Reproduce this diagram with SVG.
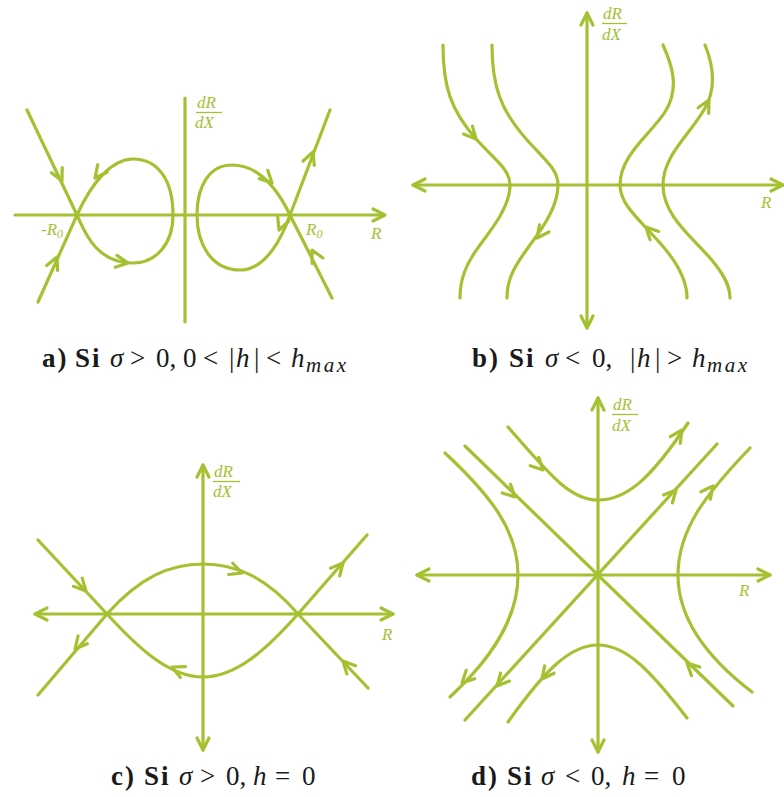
<svg xmlns="http://www.w3.org/2000/svg" xmlns:xlink="http://www.w3.org/1999/xlink" width="784" height="797" viewBox="0 0 784 797">
<style>
.ln{fill:none;stroke:#a4c132;stroke-width:3.2;stroke-linecap:round;stroke-linejoin:round}
.ah{fill:none;stroke:#a4c132;stroke-width:3.2;stroke-linecap:round;stroke-linejoin:round}
.fb{stroke:#a4c132;stroke-width:1.3}
.lb{font-family:"Liberation Serif","DejaVu Serif",serif;font-style:italic;fill:#a4c132;font-size:17px}
.sub{font-size:12px}
.cap{font-family:"Liberation Serif","DejaVu Serif",serif;font-size:27px;fill:#1a1a1a}
.b{font-weight:bold;letter-spacing:2px}
.i{font-style:italic}
.s{font-style:italic;font-size:21px;letter-spacing:2.5px}
</style>
<defs>
<path id="ah" class="ah" d="M-12,-6 L0,0 L-12,6"/>
</defs>
<rect width="784" height="797" fill="#fff"/>

<g id="panel-a">
  <g id="a-axes">
    <path class="ln" d="M15,215 L384,215"/>
    <use href="#ah" transform="translate(385,215)"/>
    <path class="ln" d="M185,98 L185,322"/>
  </g>
  <g id="a-labels">
    <text class="lb" x="197" y="108">dR</text>
    <path class="fb" d="M196,112.5 L222,112.5"/>
    <text class="lb" x="195" y="128">dX</text>
    <text class="lb" x="41" y="235">-R<tspan class="sub" dy="3">0</tspan></text>
    <text class="lb" x="306" y="235">R<tspan class="sub" dy="3">0</tspan></text>
    <text class="lb" x="371" y="239">R</text>
  </g>
  <g id="a-connectors">
    <path class="ln" d="M27,110 L77,215 C84,230 95,263 133,263 C155,263 173,245 173,215 C173,180 158,159 133,159 C112,159 92,182 77,215 L38,302"/>
    <path class="ln" d="M330,110 L290,215 C284,232 268,270 240,270 C212,270 197,245 197,215 C197,185 210,165 232,165 C258,165 277,188 290,215 L332,298"/>
    <use href="#ah" transform="translate(62,181) rotate(64.5)"/>
    <use href="#ah" transform="translate(95,178) rotate(128)"/>
    <use href="#ah" transform="translate(128,263) rotate(8)"/>
    <use href="#ah" transform="translate(57,257) rotate(-66)"/>
    <use href="#ah" transform="translate(313,152) rotate(-69)"/>
    <use href="#ah" transform="translate(279,230) rotate(111)"/>
    <use href="#ah" transform="translate(272,183) rotate(45)"/>
    <use href="#ah" transform="translate(312,250) rotate(-117)"/>
  </g>
</g>

<g id="panel-b">
  <g id="b-axes">
    <path class="ln" d="M413,185 L782,185"/>
    <use href="#ah" transform="translate(413,185) rotate(180)"/>
    <use href="#ah" transform="translate(783,185)"/>
    <path class="ln" d="M587,13 L587,328"/>
    <use href="#ah" transform="translate(587,13) rotate(-90)"/>
    <use href="#ah" transform="translate(587,328) rotate(90)"/>
  </g>
  <g id="b-labels">
    <text class="lb" x="603" y="19">dR</text>
    <path class="fb" d="M602,23.5 L627,23.5"/>
    <text class="lb" x="602" y="40">dX</text>
    <text class="lb" x="761" y="208">R</text>
  </g>
  <g id="b-connectors">
    <path class="ln" d="M443,45 C443,85 450,110 477,140 C497,162 510,170 510,185 C510,205 495,225 480,245 C465,265 460,280 460,298"/>
    <path class="ln" d="M492,45 C492,85 500,110 527,140 C547,162 558,170 558,185 C558,205 545,225 530,245 C513,268 507,280 507,298"/>
    <path class="ln" d="M663,45 C672,65 680,88 665,112 C650,135 620,155 620,185 C620,205 640,220 660,243 C678,263 687,280 687,298"/>
    <path class="ln" d="M705,45 C712,62 718,85 705,108 C690,135 663,155 663,185 C663,215 690,235 710,258 C723,273 730,285 730,298"/>
    <use href="#ah" transform="translate(476,139) rotate(48)"/>
    <use href="#ah" transform="translate(537,238) rotate(127)"/>
    <use href="#ah" transform="translate(646,227) rotate(226)"/>
    <use href="#ah" transform="translate(709,100) rotate(-62)"/>
  </g>
</g>

<g id="panel-c">
  <g id="c-axes">
    <path class="ln" d="M35,614 L393,614"/>
    <use href="#ah" transform="translate(35,614) rotate(180)"/>
    <use href="#ah" transform="translate(393,614)"/>
    <path class="ln" d="M203,465 L203,750"/>
    <use href="#ah" transform="translate(203,465) rotate(-90)"/>
    <use href="#ah" transform="translate(203,750) rotate(90)"/>
  </g>
  <g id="c-labels">
    <text class="lb" x="214" y="477">dR</text>
    <path class="fb" d="M213,481.5 L240,481.5"/>
    <text class="lb" x="213" y="497">dX</text>
    <text class="lb" x="382" y="640">R</text>
  </g>
  <g id="c-connectors">
    <path class="ln" d="M38,540 L107,614 C140,650 170,677 203,677 C236,677 266,650 298,614 L367,535"/>
    <path class="ln" d="M38,695 L107,614 C140,577 170,564 203,564 C236,564 266,577 298,614 L368,688"/>
    <use href="#ah" transform="translate(86,591) rotate(47)"/>
    <use href="#ah" transform="translate(242,573) rotate(20)"/>
    <use href="#ah" transform="translate(343,563) rotate(-49)"/>
    <use href="#ah" transform="translate(343,661) rotate(-133)"/>
    <use href="#ah" transform="translate(172,667) rotate(205)"/>
    <use href="#ah" transform="translate(75,649) rotate(130)"/>
  </g>
</g>

<g id="panel-d">
  <g id="d-axes">
    <path class="ln" d="M417,575 L770,575"/>
    <use href="#ah" transform="translate(417,575) rotate(180)"/>
    <use href="#ah" transform="translate(770,575)"/>
    <path class="ln" d="M598,398 L598,752"/>
    <use href="#ah" transform="translate(598,398) rotate(-90)"/>
    <use href="#ah" transform="translate(598,752) rotate(90)"/>
  </g>
  <g id="d-labels">
    <text class="lb" x="613" y="410">dR</text>
    <path class="fb" d="M612,414.5 L638,414.5"/>
    <text class="lb" x="612" y="431">dX</text>
    <text class="lb" x="739" y="596">R</text>
  </g>
  <g id="d-connectors">
    <path class="ln" d="M465,446 L733,706"/>
    <path class="ln" d="M717,444 L465,720"/>
    <path class="ln" d="M508,427 C550,475 570,500 598,500 C626,500 650,480 688,423"/>
    <path class="ln" d="M508,722 C545,670 570,645 598,645 C626,645 650,670 687,718"/>
    <path class="ln" d="M445,453 C490,495 518,530 518,575 C518,620 490,660 450,697"/>
    <path class="ln" d="M750,448 C705,495 678,530 678,575 C678,620 710,660 752,692"/>
    <use href="#ah" transform="translate(543,470) rotate(45)"/>
    <use href="#ah" transform="translate(682,430) rotate(-56)"/>
    <use href="#ah" transform="translate(515,497) rotate(44)"/>
    <use href="#ah" transform="translate(676,490) rotate(-48)"/>
    <use href="#ah" transform="translate(713,486) rotate(-52)"/>
    <use href="#ah" transform="translate(462,683) rotate(135)"/>
    <use href="#ah" transform="translate(497,686) rotate(132)"/>
    <use href="#ah" transform="translate(542,679) rotate(128)"/>
    <use href="#ah" transform="translate(687,663) rotate(-136)"/>
  </g>
</g>

<g id="captions">
  <text class="cap" y="367"><tspan class="b" x="42">a)</tspan><tspan class="b" x="75">Si</tspan><tspan class="i" x="110">σ</tspan><tspan x="130">&gt;</tspan><tspan x="156">0,</tspan><tspan x="183">0</tspan><tspan x="203">&lt;</tspan><tspan x="229">|</tspan><tspan class="i" x="236">h</tspan><tspan x="254">|</tspan><tspan x="266">&lt;</tspan><tspan class="i" x="291">h</tspan><tspan class="s" x="306" dy="5">max</tspan></text>
  <text class="cap" y="367"><tspan class="b" x="472">b)</tspan><tspan class="b" x="509">Si</tspan><tspan class="i" x="545">σ</tspan><tspan x="565">&lt;</tspan><tspan x="592">0,</tspan><tspan x="630">|</tspan><tspan class="i" x="637">h</tspan><tspan x="655">|</tspan><tspan x="667">&gt;</tspan><tspan class="i" x="692">h</tspan><tspan class="s" x="707" dy="5">max</tspan></text>
  <text class="cap" y="785"><tspan class="b" x="111">c)</tspan><tspan class="b" x="144">Si</tspan><tspan class="i" x="179">σ</tspan><tspan x="200">&gt;</tspan><tspan x="226">0,</tspan><tspan class="i" x="253">h</tspan><tspan x="275">=</tspan><tspan x="302">0</tspan></text>
  <text class="cap" y="785"><tspan class="b" x="471">d)</tspan><tspan class="b" x="507">Si</tspan><tspan class="i" x="541">σ</tspan><tspan x="565">&lt;</tspan><tspan x="591">0,</tspan><tspan class="i" x="622">h</tspan><tspan x="644">=</tspan><tspan x="672">0</tspan></text>
</g>
</svg>
